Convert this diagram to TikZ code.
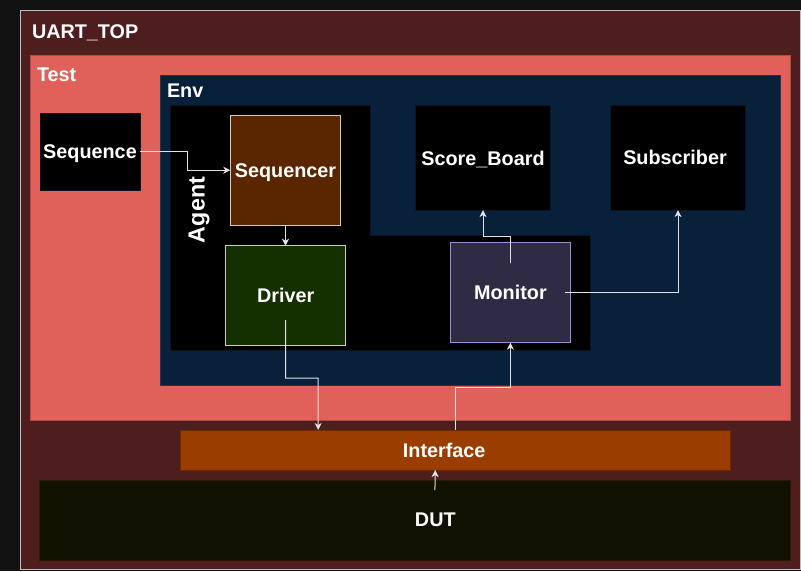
\documentclass[tikz,border=0pt]{standalone}
\usepackage{fontspec}
\setmainfont{Liberation Sans}
\usetikzlibrary{arrows.meta,calc}
\definecolor{bgc}{HTML}{121212}
\definecolor{uartf}{HTML}{4E1E1E}
\definecolor{uartd}{HTML}{BDBDBD}
\definecolor{testf}{HTML}{E0605A}
\definecolor{testd}{HTML}{B64846}
\definecolor{envf}{HTML}{08203A}
\definecolor{envd}{HTML}{1F3550}
\definecolor{agentd}{HTML}{0A1626}
\definecolor{seqrf}{HTML}{5A2600}
\definecolor{lightd}{HTML}{CCCCCC}
\definecolor{drvf}{HTML}{143000}
\definecolor{drvd}{HTML}{C8D4BE}
\definecolor{monf}{HTML}{2F2B45}
\definecolor{mond}{HTML}{9D8FD0}
\definecolor{ifcf}{HTML}{9A3D00}
\definecolor{ifcd}{HTML}{6B2B00}
\definecolor{dutf}{HTML}{111100}
\definecolor{dutd}{HTML}{2B1900}
\definecolor{linec}{HTML}{E2E2E2}
\begin{document}
\begin{tikzpicture}[x=1pt,y=-1pt,
  txt/.style={text=white, font=\fontsize{19.8}{23}\selectfont\bfseries},
  box/.style={draw, rectangle, inner sep=0pt, outer sep=0pt, line width=1pt, txt, text depth=0pt},
  lbl/.style={txt, inner sep=0pt, outer sep=0pt},
  conn/.style={draw=linec, line width=1pt, -{Stealth[length=7pt,width=7pt,inset=2pt]}}]
\useasboundingbox (0,0) rectangle (801,571);
\fill[bgc] (0,0) rectangle (801,571);
% containers
\node[box, fill=uartf, draw=uartd, minimum width=780pt, minimum height=559pt] (uart) at (410.5,290) {};
\node[lbl, anchor=base west] (uartlbl) at (32,38.3) {UART\_TOP};
\node[box, fill=testf, draw=testd, minimum width=760.5pt, minimum height=365pt] (test) at (410.3,237.5) {};
\node[lbl, anchor=base west] (testlbl) at (37,81.7) {Test};
\node[box, fill=envf, draw=envd, minimum width=619.5pt, minimum height=309.5pt] (env) at (470.5,230.3) {};
\node[lbl, anchor=base west] (envlbl) at (167,97) {Env};
% agent region
\filldraw[fill=black, draw=agentd, line width=1pt] (170,105) -- (370,105) -- (370,235) -- (590,235) -- (590,350) -- (170,350) -- cycle;
\node[lbl, rotate=90, font=\fontsize{23.3}{27}\selectfont\bfseries] (agentlbl) at (199,210) {Agent};
% boxes
\node[box, fill=black, draw=agentd, minimum width=100pt, minimum height=77pt] (seq) at (90,151.5) {Sequence};
\node[box, fill=seqrf, draw=lightd, minimum width=110.4pt, minimum height=109.7pt] (sqr) at (285.5,170.2) {Sequencer};
\node[box, fill=drvf, draw=drvd, minimum width=120pt, minimum height=99.3pt] (drv) at (285.7,295.4) {Driver};
\node[box, fill=black, draw=agentd, minimum width=134.6pt, minimum height=104.3pt] (sb) at (483,157.9) {Score\_Board};
\node[box, fill=black, draw=agentd, minimum width=134.6pt, minimum height=104.3pt, label={[lbl, xshift=-3pt]center:Subscriber}] (sub) at (678,157.9) {};
\node[box, fill=monf, draw=mond, minimum width=120.7pt, minimum height=100.4pt] (mon) at (510.4,292.5) {Monitor};
\node[box, fill=ifcf, draw=ifcd, minimum width=550pt, minimum height=40pt, label={[lbl, xshift=-11.5pt]center:Interface}] (ifc) at (455.7,450) {};
\node[box, fill=dutf, draw=dutd, minimum width=750.7pt, minimum height=80pt, label={[lbl, xshift=20pt]center:DUT}] (dut) at (415.3,520) {};
% connectors
\draw[conn] (seq.east) -- (187.5,151.5) |- (sqr.west);
\draw[conn] (sqr.south) -- (sqr.south |- drv.north);
\draw[conn] ([yshift=25pt]drv.south) |- (318,378) -- ($(ifc.north west)+(137.5,0)$);
\draw[conn] ($(ifc.north west)+(274.5,0)$) |- (510.4,387) -- (mon.south);
\draw[conn] ($(dut.north west)+(395,10)$) -- ($(ifc.south west)+(254.5,0)$);
\draw[conn] ([yshift=-21pt]mon.north) |- (483,236.5) -- (sb.south);
\draw[conn] ([xshift=-6pt]mon.east) -| (sub.south);
\end{tikzpicture}
\end{document}
